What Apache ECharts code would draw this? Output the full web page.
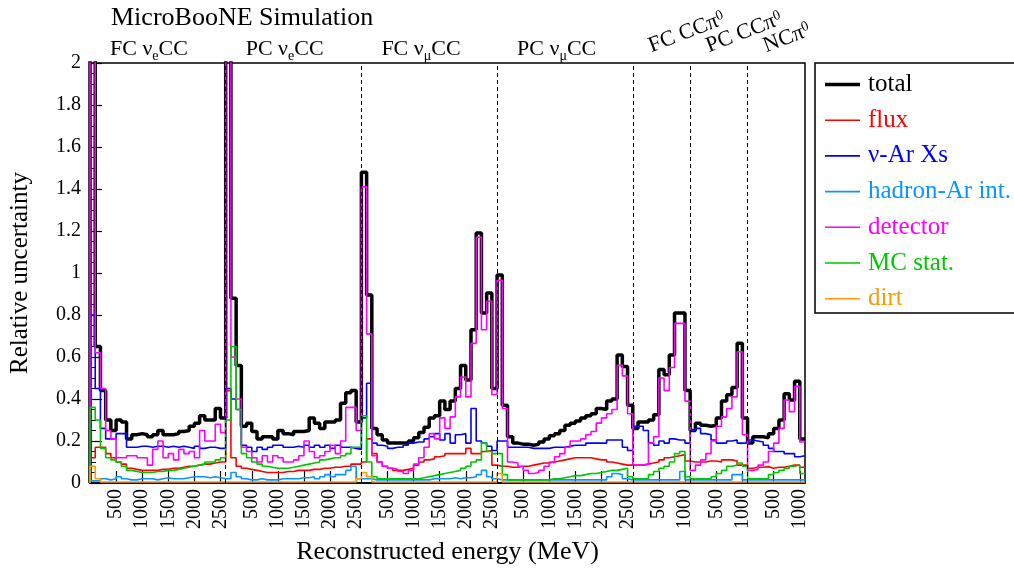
<!DOCTYPE html>
<html>
<head>
<meta charset="utf-8">
<script src="https://cdn.jsdelivr.net/npm/echarts@6/dist/echarts.min.js"></script>
<style>
html,body{margin:0;padding:0;background:#fff;}
#main{width:1014px;height:572px;}
</style>
</head>
<body>
<div id="main"></div>
<script>
// 7 channels concatenated, 100 MeV bins (last bin of each channel = overflow)
var channelBins = [26, 26, 26, 26, 11, 11, 11];
var channelLabels = ['{n|FC ν}{s|e}{n|CC}', '{n|PC ν}{s|e}{n|CC}', '{n|FC ν}{s|μ}{n|CC}', '{n|PC ν}{s|μ}{n|CC}',
                     '{n|FC CCπ}{p|0}', '{n|PC CCπ}{p|0}', '{n|NCπ}{p|0}'];
var tickMeV = [500, 1000, 1500, 2000, 2500];
var binMeV = 100;
var seriesNames = ['total', 'flux', 'ν-Ar Xs', 'hadron-Ar int.', 'detector', 'MC stat.', 'dirt'];
var seriesColors = ['#000000', '#ff0000', '#0000ff', '#0a96ff', '#ff00ff', '#00c800', '#ff9900'];

var total = [
    // FC nue CC
    2.5, 0.65, 0.44, 0.30, 0.25, 0.30, 0.29, 0.21, 0.23, 0.235, 0.23, 0.22, 0.23, 0.25, 0.23, 0.23, 0.235, 0.245, 0.25, 0.27, 0.285, 0.32, 0.30, 0.30, 0.355, 0.31,
    // PC nue CC
    2.5, 0.88, 0.56, 0.27, 0.285, 0.245, 0.21, 0.22, 0.22, 0.21, 0.25, 0.235, 0.23, 0.245, 0.245, 0.25, 0.31, 0.285, 0.26, 0.29, 0.29, 0.30, 0.38, 0.43, 0.44, 0.29,
    // FC numu CC
    1.48, 0.895, 0.26, 0.23, 0.205, 0.19, 0.19, 0.19, 0.19, 0.20, 0.215, 0.24, 0.265, 0.31, 0.32, 0.39, 0.35, 0.39, 0.45, 0.56, 0.49, 0.73, 1.19, 0.81, 0.905, 0.45,
    // PC numu CC
    0.99, 0.37, 0.22, 0.19, 0.185, 0.185, 0.18, 0.185, 0.195, 0.21, 0.225, 0.235, 0.25, 0.275, 0.285, 0.295, 0.31, 0.32, 0.33, 0.355, 0.35, 0.39, 0.40, 0.61, 0.555, 0.37,
    // FC CCpi0
    0.26, 0.29, 0.29, 0.30, 0.325, 0.54, 0.515, 0.61, 0.81, 0.81, 0.44,
    // PC CCpi0
    0.25, 0.285, 0.275, 0.27, 0.275, 0.31, 0.39, 0.42, 0.455, 0.665, 0.31,
    // NCpi0
    0.19, 0.22, 0.22, 0.215, 0.235, 0.26, 0.30, 0.425, 0.395, 0.485, 0.21
];
var flux = [
    0.12, 0.17, 0.17, 0.14, 0.12, 0.10, 0.09, 0.07, 0.065, 0.06, 0.06, 0.06, 0.06, 0.065, 0.065, 0.07, 0.07, 0.075, 0.08, 0.08, 0.085, 0.09, 0.09, 0.095, 0.10, 0.10,
    0.44, 0.12, 0.08, 0.07, 0.065, 0.06, 0.055, 0.05, 0.05, 0.05, 0.05, 0.055, 0.055, 0.06, 0.06, 0.06, 0.065, 0.065, 0.07, 0.07, 0.075, 0.075, 0.08, 0.08, 0.09, 0.09,
    0.10, 0.21, 0.14, 0.10, 0.08, 0.07, 0.06, 0.06, 0.065, 0.07, 0.085, 0.10, 0.11, 0.115, 0.125, 0.13, 0.14, 0.14, 0.14, 0.14, 0.165, 0.14, 0.14, 0.15, 0.155, 0.085,
    0.08, 0.08, 0.075, 0.075, 0.08, 0.08, 0.085, 0.09, 0.095, 0.095, 0.10, 0.105, 0.11, 0.115, 0.12, 0.12, 0.12, 0.12, 0.115, 0.11, 0.11, 0.10, 0.095, 0.09, 0.085, 0.085,
    0.085, 0.085, 0.09, 0.095, 0.10, 0.11, 0.12, 0.125, 0.13, 0.135, 0.105,
    0.10, 0.10, 0.10, 0.105, 0.105, 0.10, 0.11, 0.11, 0.105, 0.085, 0.085,
    0.07, 0.075, 0.075, 0.078, 0.07, 0.075, 0.075, 0.08, 0.085, 0.085, 0.075
];
var xsec = [
    0.80, 0.45, 0.26, 0.21, 0.21, 0.235, 0.235, 0.17, 0.17, 0.175, 0.175, 0.17, 0.175, 0.175, 0.17, 0.175, 0.17, 0.175, 0.17, 0.165, 0.175, 0.165, 0.17, 0.17, 0.165, 0.165,
    0.45, 0.40, 0.35, 0.18, 0.17, 0.15, 0.17, 0.16, 0.17, 0.18, 0.18, 0.17, 0.17, 0.175, 0.17, 0.18, 0.17, 0.18, 0.17, 0.18, 0.165, 0.18, 0.17, 0.17, 0.165, 0.16,
    0.31, 0.475, 0.19, 0.18, 0.175, 0.165, 0.17, 0.17, 0.18, 0.19, 0.195, 0.195, 0.21, 0.22, 0.235, 0.205, 0.235, 0.19, 0.23, 0.235, 0.19, 0.355, 0.20, 0.19, 0.175, 0.155,
    0.20, 0.20, 0.17, 0.17, 0.17, 0.17, 0.165, 0.165, 0.165, 0.165, 0.17, 0.17, 0.17, 0.175, 0.18, 0.18, 0.18, 0.19, 0.19, 0.19, 0.19, 0.205, 0.205, 0.205, 0.17, 0.155,
    0.27, 0.27, 0.25, 0.19, 0.18, 0.20, 0.19, 0.21, 0.205, 0.205, 0.19,
    0.25, 0.26, 0.235, 0.23, 0.205, 0.19, 0.19, 0.20, 0.205, 0.19, 0.19,
    0.205, 0.20, 0.195, 0.18, 0.165, 0.15, 0.15, 0.14, 0.14, 0.125, 0.13
];
var hadron = [
    0.01, 0.01, 0.02, 0.015, 0.02, 0.03, 0.02, 0.015, 0.015, 0.02, 0.02, 0.02, 0.015, 0.02, 0.025, 0.02, 0.02, 0.02, 0.025, 0.03, 0.03, 0.03, 0.025, 0.03, 0.025, 0.02,
    0.02, 0.05, 0.03, 0.02, 0.015, 0.015, 0.02, 0.015, 0.015, 0.015, 0.02, 0.02, 0.02, 0.02, 0.025, 0.025, 0.03, 0.02, 0.03, 0.04, 0.03, 0.04, 0.04, 0.06, 0.08, 0.02,
    0.02, 0.02, 0.015, 0.015, 0.015, 0.015, 0.015, 0.015, 0.015, 0.015, 0.015, 0.015, 0.015, 0.02, 0.02, 0.02, 0.02, 0.025, 0.02, 0.025, 0.025, 0.03, 0.04, 0.06, 0.03, 0.02,
    0.015, 0.015, 0.015, 0.015, 0.015, 0.015, 0.015, 0.015, 0.015, 0.015, 0.015, 0.015, 0.015, 0.015, 0.015, 0.015, 0.015, 0.015, 0.015, 0.015, 0.015, 0.03, 0.045, 0.04, 0.02, 0.015,
    0.015, 0.015, 0.015, 0.015, 0.015, 0.015, 0.015, 0.015, 0.015, 0.055, 0.015,
    0.015, 0.015, 0.015, 0.015, 0.015, 0.015, 0.015, 0.015, 0.04, 0.04, 0.015,
    0.015, 0.015, 0.015, 0.015, 0.015, 0.015, 0.015, 0.015, 0.015, 0.015, 0.015
];
var detector = [
    2.5, 0.62, 0.45, 0.25, 0.21, 0.12, 0.12, 0.13, 0.13, 0.12, 0.12, 0.085, 0.16, 0.20, 0.12, 0.14, 0.11, 0.16, 0.14, 0.15, 0.12, 0.25, 0.20, 0.20, 0.28, 0.24,
    2.5, 0.60, 0.40, 0.17, 0.15, 0.12, 0.10, 0.13, 0.10, 0.13, 0.12, 0.10, 0.10, 0.11, 0.13, 0.20, 0.15, 0.12, 0.13, 0.15, 0.18, 0.14, 0.20, 0.36, 0.36, 0.25,
    1.41, 0.71, 0.13, 0.10, 0.08, 0.07, 0.065, 0.055, 0.045, 0.06, 0.09, 0.12, 0.17, 0.235, 0.21, 0.31, 0.26, 0.315, 0.41, 0.505, 0.41, 0.665, 1.17, 0.73, 0.865, 0.42,
    0.965, 0.355, 0.10, 0.095, 0.08, 0.06, 0.045, 0.05, 0.06, 0.08, 0.10, 0.125, 0.14, 0.17, 0.20, 0.20, 0.21, 0.23, 0.245, 0.285, 0.31, 0.33, 0.35, 0.56, 0.51, 0.33,
    0.085, 0.085, 0.09, 0.19, 0.22, 0.50, 0.44, 0.55, 0.76, 0.76, 0.39,
    0.06, 0.085, 0.11, 0.14, 0.20, 0.27, 0.315, 0.355, 0.41, 0.625, 0.23,
    0.06, 0.065, 0.085, 0.10, 0.15, 0.19, 0.26, 0.395, 0.34, 0.46, 0.195
];
var mcstat = [
    0.36, 0.30, 0.165, 0.12, 0.11, 0.10, 0.08, 0.06, 0.055, 0.05, 0.05, 0.05, 0.055, 0.055, 0.06, 0.06, 0.065, 0.07, 0.075, 0.08, 0.085, 0.09, 0.10, 0.10, 0.11, 0.12,
    0.30, 0.65, 0.35, 0.14, 0.12, 0.10, 0.09, 0.08, 0.075, 0.07, 0.07, 0.07, 0.075, 0.08, 0.085, 0.09, 0.095, 0.10, 0.11, 0.115, 0.12, 0.12, 0.13, 0.14, 0.17, 0.17,
    0.32, 0.10, 0.03, 0.02, 0.02, 0.02, 0.02, 0.02, 0.02, 0.02, 0.02, 0.025, 0.03, 0.035, 0.04, 0.045, 0.05, 0.055, 0.06, 0.07, 0.08, 0.10, 0.11, 0.19, 0.15, 0.14,
    0.14, 0.04, 0.015, 0.015, 0.015, 0.015, 0.015, 0.015, 0.015, 0.015, 0.02, 0.02, 0.025, 0.03, 0.035, 0.035, 0.04, 0.045, 0.045, 0.05, 0.055, 0.06, 0.06, 0.065, 0.07, 0.03,
    0.02, 0.02, 0.02, 0.04, 0.055, 0.07, 0.08, 0.10, 0.14, 0.15, 0.03,
    0.02, 0.02, 0.02, 0.02, 0.03, 0.045, 0.06, 0.08, 0.085, 0.095, 0.08,
    0.02, 0.02, 0.02, 0.02, 0.04, 0.05, 0.06, 0.07, 0.08, 0.085, 0.045
];
var dirt = [
    0.08, 0.02, 0.005, 0.005, 0.005, 0.005, 0.005, 0.005, 0.005, 0.005, 0.005, 0.005, 0.005, 0.005, 0.005, 0.005, 0.005, 0.005, 0.005, 0.005, 0.005, 0.005, 0.005, 0.005, 0.005, 0.005,
    0.005, 0.005, 0.005, 0.005, 0.005, 0.005, 0.005, 0.005, 0.005, 0.005, 0.005, 0.005, 0.005, 0.005, 0.005, 0.005, 0.005, 0.005, 0.005, 0.005, 0.005, 0.005, 0.005, 0.005, 0.005, 0.02,
    0.05, 0.03, 0.005, 0.005, 0.005, 0.005, 0.005, 0.005, 0.005, 0.005, 0.005, 0.005, 0.005, 0.005, 0.005, 0.005, 0.005, 0.005, 0.005, 0.005, 0.005, 0.005, 0.005, 0.005, 0.005, 0.005,
    0.045, 0.005, 0.005, 0.005, 0.005, 0.005, 0.005, 0.005, 0.005, 0.005, 0.005, 0.005, 0.005, 0.005, 0.005, 0.005, 0.005, 0.005, 0.005, 0.005, 0.005, 0.005, 0.005, 0.005, 0.005, 0.005,
    0.005, 0.005, 0.005, 0.005, 0.005, 0.005, 0.005, 0.005, 0.005, 0.005, 0.005,
    0.005, 0.005, 0.005, 0.005, 0.005, 0.005, 0.005, 0.005, 0.005, 0.005, 0.005,
    0.005, 0.005, 0.005, 0.005, 0.005, 0.005, 0.005, 0.005, 0.005, 0.005, 0.005
];
var seriesValues = [total, flux, xsec, hadron, detector, mcstat, dirt];

var FONT = 'Liberation Serif';

// channel start positions (in bin units) and tick positions / labels
var channelStart = [], tickPos = [], tickText = {};
var acc = 0;
channelBins.forEach(function (n) {
    channelStart.push(acc);
    tickMeV.forEach(function (t) {
        if (t / binMeV < n) {
            tickPos.push(acc + t / binMeV);
            tickText[acc + t / binMeV] = String(t);
        }
    });
    acc += n;
});
var nBins = acc;
var separators = channelStart.slice(1);

// histogram outline points: left edge of each bin, plus the closing edge
function histPoints(vals) {
    var pts = [[0, 0]];
    for (var i = 0; i < vals.length; i++) {
        pts.push([i, vals[i]]);
    }
    pts.push([vals.length, vals[vals.length - 1]]);
    return pts;
}

var series = seriesNames.map(function (name, i) {
    var s = {
        name: name,
        type: 'line',
        step: 'end',
        symbol: 'none',
        showSymbol: false,
        data: histPoints(seriesValues[i]),
        lineStyle: {color: seriesColors[i], width: i === 0 ? 3.5 : 1.6},
        itemStyle: {color: seriesColors[i]},
        z: i === 0 ? 2 : 3
    };
    if (i === 0) {
        s.markLine = {
            silent: true,
            symbol: 'none',
            label: {show: false},
            lineStyle: {color: '#000', width: 1, type: [4, 3]},
            data: separators.map(function (b) { return {xAxis: b}; })
        };
    }
    return s;
});

var myChart = echarts.init(document.getElementById('main'), null, {renderer: 'canvas'});
var option = {
    animation: false,
    backgroundColor: '#fff',
    title: {
        text: 'MicroBooNE Simulation',
        left: 106,
        top: 0,
        textStyle: {fontFamily: FONT, fontSize: 26, fontWeight: 'normal', color: '#000'}
    },
    legend: {
        orient: 'vertical',
        left: 820,
        top: 67,
        itemWidth: 35,
        itemHeight: 20,
        itemGap: 10.7,
        textStyle: {fontFamily: FONT, fontSize: 25, padding: [0, 0, 0, 3]},
        data: seriesNames.map(function (n, i) {
            return {
                name: n,
                icon: i === 0 ? 'path://M0,0H35V3.5H0Z' : 'path://M0,0H35V1.6H0Z',
                textStyle: {color: seriesColors[i]}
            };
        })
    },
    grid: {
        left: 88, top: 63, width: 717, height: 420,
        show: true, borderColor: '#000', borderWidth: 1.5, backgroundColor: 'transparent'
    },
    xAxis: {
        type: 'value',
        min: 0,
        max: nBins,
        name: 'Reconstructed energy (MeV)',
        nameLocation: 'middle',
        nameGap: 56,
        nameTextStyle: {fontFamily: FONT, fontSize: 26, color: '#000'},
        axisLine: {lineStyle: {color: '#000', width: 1.5}},
        axisTick: {show: true, inside: true, length: 12, customValues: tickPos, lineStyle: {color: '#000', width: 1.2}},
        axisLabel: {
            customValues: tickPos,
            rotate: 90,
            margin: 6,
            fontFamily: FONT,
            fontSize: 20,
            color: '#000',
            formatter: function (v) { return tickText[v] || ''; }
        },
        splitLine: {show: false}
    },
    yAxis: {
        type: 'value',
        min: 0,
        max: 2,
        interval: 0.2,
        name: 'Relative uncertainty',
        nameLocation: 'middle',
        nameGap: 57,
        nameTextStyle: {fontFamily: FONT, fontSize: 25, color: '#000'},
        axisLine: {show: true, lineStyle: {color: '#000', width: 1.5}},
        axisTick: {show: true, inside: true, length: 12, lineStyle: {color: '#000', width: 1.2}},
        minorTick: {show: true, splitNumber: 4, length: 6, lineStyle: {color: '#000', width: 1}},
        axisLabel: {fontFamily: FONT, fontSize: 20, color: '#000', margin: 9},
        splitLine: {show: false}
    },
    series: series
};
myChart.setOption(option);

// channel labels above the frame, legend frame
var graphics = [{
    type: 'rect',
    shape: {x: 815, y: 63, width: 260, height: 250},
    style: {fill: '#fff', stroke: '#000', lineWidth: 1.5},
    z: 0
}];
channelLabels.forEach(function (txt, i) {
    var px = myChart.convertToPixel({xAxisIndex: 0}, channelStart[i]);
    var rotated = channelBins[i] < 20;
    graphics.push({
        type: 'text',
        x: px + (rotated ? 21 : 20),
        y: rotated ? 58 : 61,
        rotation: rotated ? 21 * Math.PI / 180 : 0,
        style: {
            text: txt,
            align: 'left',
            verticalAlign: 'bottom',
            fill: '#000',
            rich: {
                n: {fontFamily: FONT, fontSize: 22, lineHeight: 23, verticalAlign: 'top', fill: '#000'},
                s: {fontFamily: FONT, fontSize: 14, lineHeight: 14, verticalAlign: 'top', padding: [11, 0, 0, 0], fill: '#000'},
                p: {fontFamily: FONT, fontSize: 14, lineHeight: 14, verticalAlign: 'top', fill: '#000'}
            }
        },
        z: 10
    });
});
myChart.setOption({graphic: graphics});
</script>
</body>
</html>
